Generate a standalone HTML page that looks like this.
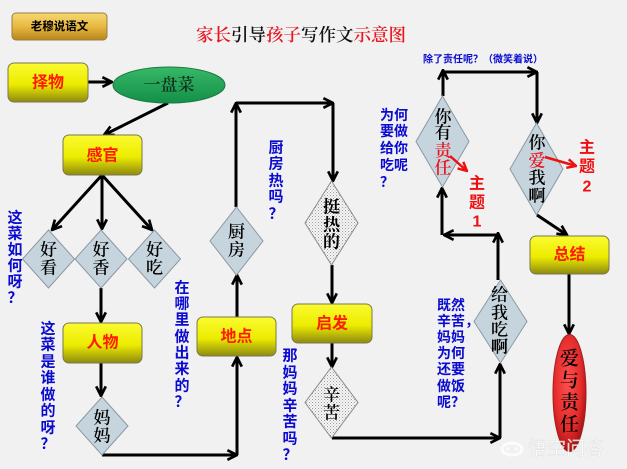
<!DOCTYPE html>
<html><head><meta charset="utf-8"><style>
html,body{margin:0;padding:0;background:#f1f1f1;}
svg{display:block;}
.bl{font-family:"Liberation Sans","Noto Sans CJK SC",sans-serif;font-weight:bold;fill:#0a0ad0;font-size:15px;}
.dm{font-family:"Liberation Serif","Noto Serif CJK SC",serif;fill:#000;font-size:17px;font-weight:600;}
.bx{font-family:"Liberation Sans","Noto Sans CJK SC",sans-serif;font-weight:bold;fill:#ff1a00;font-size:16px;}
.rd{font-family:"Liberation Sans","Noto Sans CJK SC",sans-serif;font-weight:bold;fill:#ee1010;font-size:16px;}
</style></head><body>
<svg width="627" height="469" viewBox="0 0 627 469" xmlns="http://www.w3.org/2000/svg">
<defs>
<linearGradient id="yg" x1="0" y1="0" x2="0" y2="1">
<stop offset="0" stop-color="#fbfb30"/><stop offset="0.55" stop-color="#ecec00"/><stop offset="1" stop-color="#8e8a10"/>
</linearGradient>
<linearGradient id="gold" x1="0" y1="0" x2="0" y2="1">
<stop offset="0" stop-color="#f6d873"/><stop offset="0.5" stop-color="#e8b840"/><stop offset="1" stop-color="#b8861a"/>
</linearGradient>
<linearGradient id="gr" x1="0" y1="0" x2="0" y2="1">
<stop offset="0" stop-color="#38b868"/><stop offset="1" stop-color="#149048"/>
</linearGradient>
<radialGradient id="rg" cx="0.45" cy="0.4" r="0.6">
<stop offset="0" stop-color="#ff5050"/><stop offset="0.7" stop-color="#e42a2a"/><stop offset="1" stop-color="#a81414"/>
</radialGradient>
<pattern id="dots" width="3" height="3" patternUnits="userSpaceOnUse">
<rect width="3" height="3" fill="#f6f6f6"/><rect x="0" y="0" width="1" height="1" fill="#9a9a9a"/><rect x="1.5" y="1.5" width="1" height="1" fill="#b8b8b8"/>
</pattern>
<marker id="a" viewBox="0 0 10 10" refX="9" refY="5" markerWidth="12" markerHeight="12" markerUnits="userSpaceOnUse" orient="auto">
<path d="M1,1 L9,5 L1,9" fill="none" stroke="#000" stroke-width="2.2"/>
</marker>
<marker id="ar" viewBox="0 0 10 10" refX="9" refY="5" markerWidth="11" markerHeight="11" markerUnits="userSpaceOnUse" orient="auto">
<path d="M1,1 L9,5 L1,9" fill="none" stroke="#ee1111" stroke-width="2.2"/>
</marker>
</defs>
<rect width="627" height="469" fill="#f1f1f1"/>

<!-- badge -->
<rect x="12" y="13" width="95" height="27" rx="4" fill="url(#gold)" stroke="#9a7d48"/>
<text x="59.5" y="27" text-anchor="middle" dominant-baseline="central" font-family="Liberation Sans,Noto Sans CJK SC,sans-serif" font-weight="bold" font-size="11.5" fill="#000">老穆说语文</text>

<!-- title -->
<text x="196" y="41" font-family="Liberation Serif,Noto Serif CJK SC,serif" font-size="17.5" font-weight="600"><tspan fill="#e8141e">家长</tspan><tspan fill="#111">引导</tspan><tspan fill="#e8141e">孩子</tspan><tspan fill="#111">写作文</tspan><tspan fill="#e8141e">示意图</tspan></text>

<g stroke="#000" stroke-width="3" fill="none">
<line x1="88" y1="82" x2="112" y2="82" marker-end="url(#a)"/>
<line x1="168" y1="103" x2="104" y2="135" marker-end="url(#a)"/>
<line x1="102" y1="175" x2="52" y2="230" marker-end="url(#a)"/>
<line x1="102" y1="175" x2="102" y2="229" marker-end="url(#a)"/>
<line x1="102" y1="175" x2="152" y2="230" marker-end="url(#a)"/>
<line x1="101" y1="288" x2="101" y2="322" marker-end="url(#a)"/>
<line x1="101" y1="363" x2="101" y2="396" marker-end="url(#a)"/>
<line x1="102" y1="455" x2="237" y2="455" marker-end="url(#a)"/>
<line x1="237" y1="455" x2="237" y2="357" marker-end="url(#a)"/>
<line x1="237" y1="317" x2="237" y2="275" marker-end="url(#a)"/>
<line x1="236" y1="207" x2="236" y2="103" marker-end="url(#a)"/>
<line x1="236" y1="103" x2="333" y2="103" marker-end="url(#a)"/>
<line x1="333" y1="103" x2="333" y2="181" marker-end="url(#a)"/>
<line x1="332" y1="265" x2="332" y2="303" marker-end="url(#a)"/>
<line x1="332" y1="343" x2="332" y2="367" marker-end="url(#a)"/>
<line x1="332" y1="438" x2="500" y2="438" marker-end="url(#a)"/>
<line x1="500" y1="438" x2="500" y2="364" marker-end="url(#a)"/>
<line x1="498" y1="280" x2="498" y2="233" marker-end="url(#a)"/>
<line x1="498" y1="235" x2="444" y2="235" marker-end="url(#a)"/>
<line x1="442" y1="235" x2="442" y2="188" marker-end="url(#a)"/>
<line x1="443" y1="96" x2="443" y2="70" marker-end="url(#a)"/>
<line x1="443" y1="72" x2="537" y2="72" marker-end="url(#a)"/>
<line x1="537" y1="72" x2="537" y2="123" marker-end="url(#a)"/>
<line x1="537" y1="215" x2="567" y2="235" marker-end="url(#a)"/>
<line x1="569" y1="274" x2="569" y2="334" marker-end="url(#a)"/>
</g>

<!-- yellow boxes -->
<g fill="url(#yg)" stroke="#7a7850" stroke-width="1">
<rect x="8" y="63" width="80" height="39" rx="6"/>
<rect x="63" y="135" width="79" height="40" rx="6"/>
<rect x="63" y="323" width="79" height="40" rx="6"/>
<rect x="197" y="317" width="79" height="39" rx="6"/>
<rect x="292" y="304" width="80" height="39" rx="6"/>
<rect x="530" y="236" width="79" height="38" rx="6"/>
</g>
<g class="bx" text-anchor="middle" dominant-baseline="central">
<text x="48" y="83">择物</text>
<text x="102.5" y="156">感官</text>
<text x="102.5" y="343">人物</text>
<text x="236.5" y="337">地点</text>
<text x="332" y="324">启发</text>
<text x="569.5" y="255">总结</text>
</g>

<!-- ellipses -->
<ellipse cx="169" cy="85" rx="56" ry="18" fill="url(#gr)" stroke="#1a7a40"/>
<text x="169" y="85" text-anchor="middle" dominant-baseline="central" font-family="Liberation Serif,Noto Serif CJK SC,serif" font-size="17" font-weight="600" fill="#10301a">一盘菜</text>
<ellipse cx="569.5" cy="393" rx="16.5" ry="58.5" fill="url(#rg)" stroke="#a02020"/>
<g class="dm" text-anchor="middle" dominant-baseline="central">
<text x="569.5" y="359" font-size="19">爱</text>
<text x="569.5" y="381" font-size="19">与</text>
<text x="569.5" y="403" font-size="19">责</text>
<text x="569.5" y="425" font-size="19">任</text>
</g>

<!-- diamonds -->
<g fill="#c6d5dd" stroke="#8a98a2" stroke-width="1">
<polygon points="48.5,230 74.5,259 48.5,288 22.5,259"/>
<polygon points="101,230 127,259 101,288 75,259"/>
<polygon points="154.5,230 180.5,259 154.5,288 128.5,259"/>
<polygon points="102,397 128,426 102,455 76,426"/>
<polygon points="236.5,207 263,241 236.5,275 210,241"/>
<polygon points="500.5,280 527,321.5 500.5,363 474,321.5"/>
<polygon points="442.5,96 469,141.5 442.5,187 416,141.5"/>
<polygon points="536.5,123 563,169 536.5,215 510,169"/>
</g>
<g fill="url(#dots)" stroke="#8a8a8a" stroke-width="1">
<polygon points="331.5,181 358,223 331.5,265 305,223"/>
<polygon points="331.5,367 358,402.5 331.5,438 305,402.5"/>
</g>
<g class="dm" text-anchor="middle" dominant-baseline="central">
<text x="48.5" y="250">好</text><text x="48.5" y="268">看</text>
<text x="101" y="250">好</text><text x="101" y="268">香</text>
<text x="154.5" y="250">好</text><text x="154.5" y="268">吃</text>
<text x="102" y="418">妈</text><text x="102" y="436">妈</text>
<text x="236.5" y="232">厨</text><text x="236.5" y="250">房</text>
<text x="331.5" y="207" font-weight="bold">挺</text><text x="331.5" y="225" font-weight="bold">热</text><text x="331.5" y="242" font-weight="bold">的</text>
<text x="331.5" y="395">辛</text><text x="331.5" y="413">苦</text>
<text x="499.5" y="295">给</text><text x="499.5" y="313">我</text><text x="499.5" y="330">吃</text><text x="499.5" y="347" font-weight="bold">啊</text>
<text x="443" y="117">你</text><text x="443" y="133">有</text><text x="443" y="151" fill="#e8141e">责</text><text x="443" y="168" fill="#e8141e">任</text>
<text x="537" y="143">你</text><text x="537" y="161" fill="#e8141e">爱</text><text x="537" y="178">我</text><text x="537" y="196" font-weight="bold">啊</text>
</g>

<!-- red arrows -->
<line x1="450" y1="156" x2="467" y2="171" stroke="#ee1111" stroke-width="2.5" marker-end="url(#ar)"/>
<line x1="545" y1="157" x2="576" y2="166" stroke="#ee1111" stroke-width="2.5" marker-end="url(#ar)"/>
<g class="rd" text-anchor="middle" dominant-baseline="central">
<text x="477" y="184">主</text><text x="477" y="203">题</text><text x="477" y="222">1</text>
<text x="587" y="148">主</text><text x="587" y="167">题</text><text x="587" y="187">2</text>
</g>

<!-- blue vertical labels -->
<g class="bl" text-anchor="middle" dominant-baseline="central">
<text x="15" y="218">这</text><text x="15" y="234">菜</text><text x="15" y="250">如</text><text x="15" y="266">何</text><text x="15" y="282">呀</text><text x="15" y="298">？</text>
<text x="48" y="329">这</text><text x="48" y="345">菜</text><text x="48" y="362">是</text><text x="48" y="378">谁</text><text x="48" y="395">做</text><text x="48" y="411">的</text><text x="48" y="428">呀</text><text x="48" y="444">？</text>
<text x="182" y="288">在</text><text x="182" y="304">哪</text><text x="182" y="320">里</text><text x="182" y="337">做</text><text x="182" y="353">出</text><text x="182" y="369">来</text><text x="182" y="386">的</text><text x="182" y="402">？</text>
<text x="276" y="148">厨</text><text x="276" y="164">房</text><text x="276" y="181">热</text><text x="276" y="197">吗</text><text x="276" y="214">？</text>
<text x="290" y="356">那</text><text x="290" y="373">妈</text><text x="290" y="389">妈</text><text x="290" y="406">辛</text><text x="290" y="422">苦</text><text x="290" y="439">吗</text><text x="290" y="455">？</text>
</g>
<g class="bl" dominant-baseline="central">
<text x="380" y="115" font-size="14">为何</text><text x="380" y="131" font-size="14">要做</text><text x="380" y="148" font-size="14">给你</text><text x="380" y="165" font-size="14">吃呢</text><text x="380" y="182" font-size="14">？</text>
<text x="437" y="305" font-size="14">既然</text><text x="437" y="321" font-size="14">辛苦，</text><text x="437" y="337" font-size="14">妈妈</text><text x="437" y="353" font-size="14">为何</text><text x="437" y="369" font-size="14">还要</text><text x="437" y="386" font-size="14">做饭</text><text x="437" y="402" font-size="14">呢？</text>
</g>
<text x="423" y="60" dominant-baseline="central" font-family="Liberation Sans,Noto Sans CJK SC,sans-serif" font-weight="bold" font-size="10" fill="#0a0ad0">除了责任呢？（微笑着说）</text>

<!-- watermark -->
<g opacity="0.85">
<ellipse cx="512" cy="449" rx="10" ry="6" fill="none" stroke="#ffffff" stroke-width="3"/>
<circle cx="508" cy="449" r="1.5" fill="#fff"/><circle cx="516" cy="449" r="1.5" fill="#fff"/>
<text x="528" y="449" dominant-baseline="central" font-family="Liberation Sans,Noto Sans CJK SC,sans-serif" font-size="19" fill="#ffffff" stroke="#d8d8d8" stroke-width="0.4">悟空问答</text>
</g>
</svg>
</body></html>
